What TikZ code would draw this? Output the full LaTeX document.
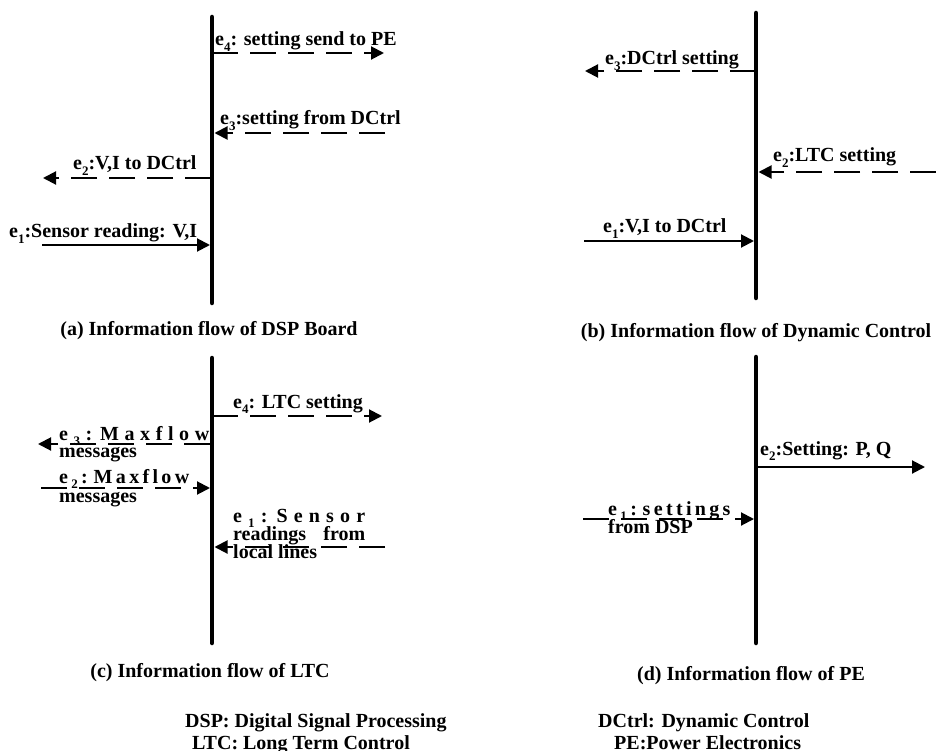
\documentclass[tikz,border=0pt]{standalone}
\usepackage{fontspec}
\setmainfont{Liberation Serif}
\usetikzlibrary{arrows.meta}
\newcommand{\esub}[1]{\raisebox{-0.28em}{\fontsize{13}{13}\selectfont #1}}
\newcommand{\spreadbox}[2]{\makebox[#1][s]{#2}}
\begin{document}
\begin{tikzpicture}[x=1pt,y=-1pt,
  lifeline/.style={line width=4.5pt,line cap=round},
  msg/.style={line width=2pt,-{Triangle[length=13pt,width=13pt]}},
  dmsg/.style={msg,dash pattern=on 26pt off 12pt},
  lbl/.style={anchor=base west,inner sep=0pt,font=\fontsize{20}{20}\selectfont\bfseries},
  captxt/.style={anchor=base,inner sep=0pt,font=\fontsize{20}{20}\selectfont\bfseries}]
\useasboundingbox (0,0) rectangle (936,751);

% ---------- (a) DSP Board ----------
\coordinate (aT) at (212,17); \coordinate (aB) at (212,303);
\draw[lifeline] (aT) -- (aB);
\coordinate (a4s) at (212,53);  \coordinate (a4e) at (384,53);
\draw[dmsg] (a4s) -- (a4e);
\node[lbl] (a4l) at (215,46) {e\esub{4}: setting send to PE};
\coordinate (a3s) at (385,133); \coordinate (a3e) at (214.5,133);
\draw[dmsg] (a3s) -- (a3e);
\node[lbl] (a3l) at (220,125) {e\esub{3}:setting from DCtrl};
\coordinate (a2s) at (211,178); \coordinate (a2e) at (43,178);
\draw[dmsg] (a2s) -- (a2e);
\node[lbl] (a2l) at (73,170) {e\esub{2}:V,I to DCtrl};
\coordinate (a1s) at (42,245); \coordinate (a1e) at (210,245);
\draw[msg] (a1s) -- (a1e);
\node[lbl] (a1l) at (9,238) {e\esub{1}:Sensor reading: V,I};
\node[captxt] (acap) at (209,335) {(a) Information flow of DSP Board};

% ---------- (b) Dynamic Control ----------
\coordinate (bT) at (756,13); \coordinate (bB) at (756,298);
\draw[lifeline] (bT) -- (bB);
\coordinate (b3s) at (756,71); \coordinate (b3e) at (585,71);
\draw[dmsg] (b3s) -- (b3e);
\node[lbl] (b3l) at (605,65) {e\esub{3}:DCtrl setting};
\coordinate (b2s) at (936,172); \coordinate (b2e) at (758.5,172);
\draw[dmsg] (b2s) -- (b2e);
\node[lbl] (b2l) at (773,162) {e\esub{2}:LTC setting};
\coordinate (b1s) at (584,241); \coordinate (b1e) at (754,241);
\draw[msg] (b1s) -- (b1e);
\node[lbl] (b1l) at (603,233) {e\esub{1}:V,I to DCtrl};
\node[captxt] (bcap) at (756,337) {(b) Information flow of Dynamic Control};

% ---------- (c) LTC ----------
\coordinate (cT) at (212,358); \coordinate (cB) at (212,643);
\draw[lifeline] (cT) -- (cB);
\coordinate (c4s) at (212,416); \coordinate (c4e) at (382,416);
\draw[dmsg] (c4s) -- (c4e);
\node[lbl] (c4l) at (233,408) {e\esub{4}: LTC setting};
\coordinate (c3s) at (210,444); \coordinate (c3e) at (38,444);
\draw[dmsg] (c3s) -- (c3e);
\node[lbl] (c3l) at (59,440) {\spreadbox{150pt}{e \esub{3} : M a x f l o w}};
\node[lbl] (c3m) at (59,457) {messages};
\coordinate (c2s) at (41,488); \coordinate (c2e) at (210,488);
\draw[dmsg] (c2s) -- (c2e);
\node[lbl] (c2l) at (59,483) {\spreadbox{124pt}{e \esub{2} : M a x f l o w}};
\node[lbl] (c2m) at (59,502) {messages};
\coordinate (c1s) at (385,547); \coordinate (c1e) at (214.5,547);
\draw[dmsg] (c1s) -- (c1e);
\node[lbl] (c1l) at (233,522) {\spreadbox{132pt}{e \esub{1} : S e n s o r}};
\node[lbl] (c1m) at (233,540) {\spreadbox{132pt}{readings from}};
\node[lbl] (c1n) at (233,558) {local lines};
\node[captxt] (ccap) at (210,677) {(c) Information flow of LTC};

% ---------- (d) PE ----------
\coordinate (dT) at (756,357); \coordinate (dB) at (756,643);
\draw[lifeline] (dT) -- (dB);
\coordinate (d2s) at (756,467); \coordinate (d2e) at (925,467);
\draw[msg] (d2s) -- (d2e);
\node[lbl] (d2l) at (760,455) {e\esub{2}:Setting: P, Q};
\coordinate (d1s) at (583,519); \coordinate (d1e) at (754,519);
\draw[dmsg] (d1s) -- (d1e);
\node[lbl] (d1l) at (608,515) {\spreadbox{122pt}{e \esub{1} : s e t t i n g s}};
\node[lbl] (d1m) at (608,533) {from DSP};
\node[captxt] (dcap) at (751,680) {(d) Information flow of PE};

% ---------- legend ----------
\node[lbl] (lg1) at (185,727) {DSP: Digital Signal Processing};
\node[lbl] (lg2) at (192,749) {LTC: Long Term Control};
\node[lbl] (lg3) at (598,727) {DCtrl: Dynamic Control};
\node[lbl] (lg4) at (614,749) {PE:Power Electronics};
\end{tikzpicture}
\end{document}
